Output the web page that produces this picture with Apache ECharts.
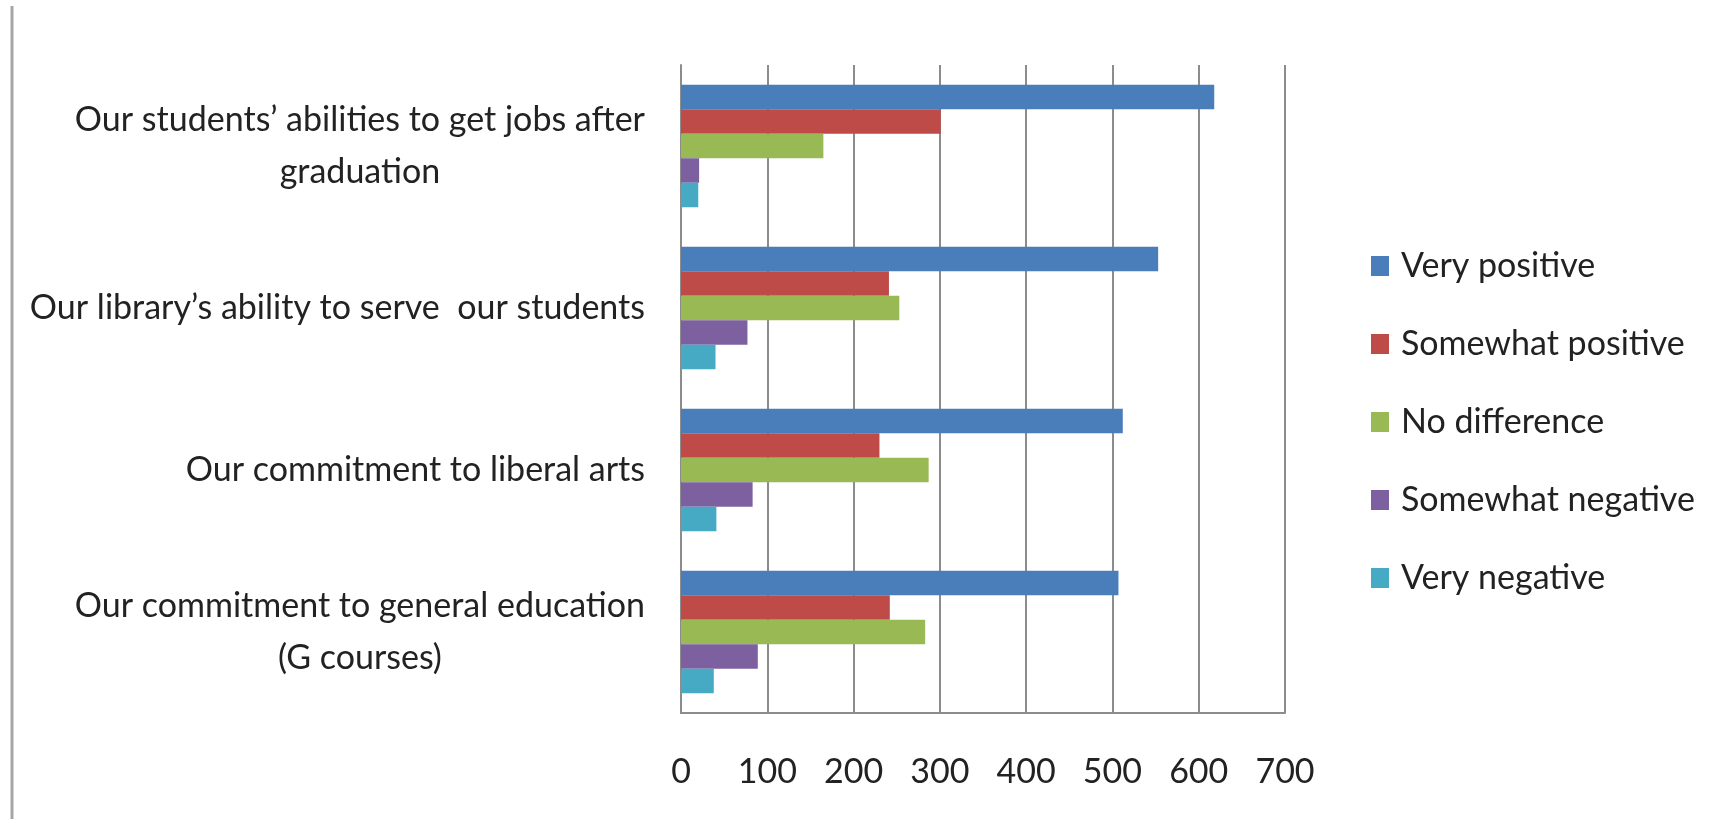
<!doctype html>
<html>
    <head>
        <meta charset="utf-8">
        <title>Bar chart</title>
        <style>
            html, body { margin: 0; padding: 0; background: #fff; }
            #main { width: 1734px; height: 819px; }
        </style>
    </head>
    <body>
        <div id="main"></div>
        <script src="https://cdn.jsdelivr.net/npm/echarts@6/dist/echarts.min.js"></script>

        <script>

            var categories = [
                'Our students\u2019 abilities to get jobs after\ngraduation',
                'Our library\u2019s ability to serve  our students',
                'Our commitment to liberal arts',
                'Our commitment to general education\n(G courses)'
            ];
            var seriesNames = ['Very positive', 'Somewhat positive', 'No difference', 'Somewhat negative', 'Very negative'];
            var veryPositive = [618, 553, 512, 507];
            var somewhatPositive = [301, 241, 230, 242];
            var noDifference = [165, 253, 287, 283];
            var somewhatNegative = [21, 77, 83, 89];
            var veryNegative = [20, 40, 41, 38];
            var xTicks = [0, 100, 200, 300, 400, 500, 600, 700];

            var colors = ['#4a7ebb', '#be4b48', '#98b954', '#7d60a0', '#46aac5'];
            var values = [veryPositive, somewhatPositive, noDifference, somewhatNegative, veryNegative];
            var font = 'Lato';
            var fs = 34;

            var myChart = echarts.init(document.getElementById('main'));

            var series = seriesNames.map(function (name, i) {
                return {
                    name: name,
                    type: 'bar',
                    data: values[i],
                    barWidth: 24.5,
                    barGap: '0%',
                    itemStyle: { color: colors[i] },
                    silent: true
                };
            });

            var option = {
                backgroundColor: '#fff',
                animation: false,
                color: colors,
                grid: { left: 681, right: 449, top: 65, bottom: 106, containLabel: false },
                legend: {
                    orient: 'vertical',
                    left: 1366,
                    top: 244,
                    itemWidth: 18,
                    itemHeight: 20,
                    itemGap: 44,
                    icon: 'rect',
                    data: seriesNames,
                    textStyle: {
                        fontFamily: font,
                        fontSize: fs,
                        lineHeight: 34,
                        color: '#222',
                        padding: [0, 0, 0, 7]
                    }
                },
                xAxis: {
                    type: 'value',
                    min: xTicks[0],
                    max: xTicks[xTicks.length - 1],
                    interval: 100,
                    axisLine: { show: true, lineStyle: { color: '#8c8c8c', width: 2 } },
                    axisTick: { show: false },
                    splitLine: { show: true, lineStyle: { color: '#8c8c8c', width: 2 } },
                    axisLabel: {
                        margin: 42,
                        fontFamily: font,
                        fontSize: fs,
                        color: '#222'
                    }
                },
                yAxis: {
                    type: 'category',
                    inverse: true,
                    data: categories,
                    axisLine: { show: true, lineStyle: { color: '#8c8c8c', width: 2 } },
                    axisTick: { show: false },
                    axisLabel: {
                        margin: 36,
                        fontFamily: font,
                        fontSize: fs,
                        lineHeight: 52,
                        color: '#222',
                        formatter: function (v) {
                            return v.split('\n').map(function (l) { return '{c|' + l + '}'; }).join('\n');
                        },
                        rich: {
                            c: { align: 'center', fontFamily: font, fontSize: fs, lineHeight: 52, color: '#222' }
                        }
                    }
                },
                graphic: [{
                    type: 'line',
                    shape: { x1: 12, y1: 6, x2: 12, y2: 819 },
                    style: { stroke: '#a6a6a6', lineWidth: 3 },
                    silent: true
                }],
                series: series
            };

            myChart.setOption(option);

        </script>
    </body>
</html>
